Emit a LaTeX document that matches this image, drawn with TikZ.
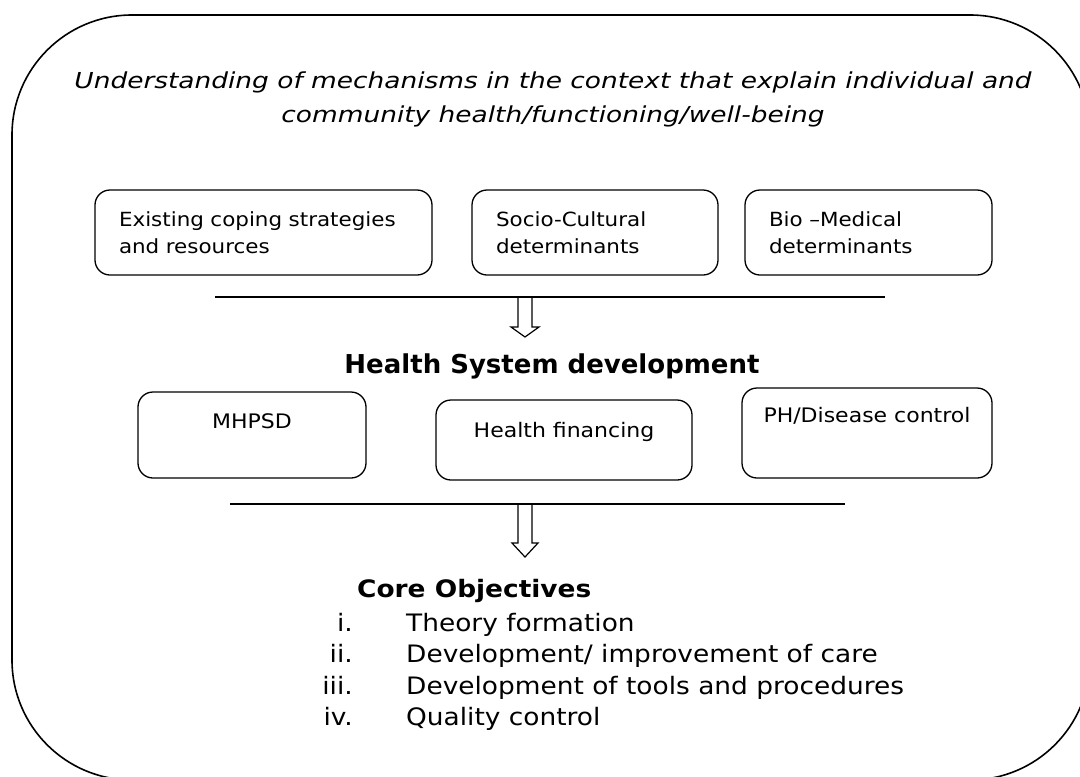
\documentclass[tikz,border=0pt]{standalone}
\usepackage{fontspec}
\setmainfont[FakeStretch=1.1]{DejaVu Sans}
\newfontfamily\titlefont[FakeStretch=1.2]{DejaVu Sans}
\newfontfamily\plainfont{DejaVu Sans}

\begin{document}
\begin{tikzpicture}[x=1pt, y=-1pt]
	\tikzstyle{every node}=[inner sep=0pt]
	\tikzstyle{topbox}=[draw, line width=1.3pt, rounded corners=15pt, align=left, inner xsep=24pt, minimum height=85pt, font=\fontsize{19.5}{27}\selectfont]
	\tikzstyle{sysbox}=[draw, line width=1.3pt, rounded corners=15pt, align=center, anchor=base, font=\fontsize{20}{24}\selectfont]
	\tikzstyle{head}=[anchor=base, font=\plainfont\bfseries\fontsize{26}{30}\selectfont]
	\tikzstyle{num}=[anchor=base east, font=\fontsize{24}{30}\selectfont]
	\tikzstyle{item}=[anchor=base west, font=\fontsize{24}{30}\selectfont]
	\tikzstyle{hollow}=[line width=1.2pt, line join=miter]
	\useasboundingbox (0,0) rectangle (1080,777);
	\begin{scope}
		\clip (0,0) rectangle (1080,777);
		\draw[line width=1.6pt, rounded corners=120pt] (12,15) rectangle (1090,780);
	\end{scope}
	\node[anchor=base, font=\titlefont\itshape\fontsize{22}{34}\selectfont] (title1) at (553,88) {Understanding of mechanisms in the context that explain individual and};
	\node[anchor=base, font=\titlefont\itshape\fontsize{22}{34}\selectfont] (title2) at (553,122) {community health/functioning/well-being};
	\node[topbox, text width=289pt] (coping) at (263.5,232.5) {Existing coping strategies\\and resources};
	\node[topbox, text width=198pt] (socio) at (595,232.5) {Socio-Cultural\\determinants};
	\node[topbox, text width=199pt] (bio) at (868.5,232.5) {Bio –Medical\\determinants};
	\coordinate (bar1w) at (215,297);
	\coordinate (bar1e) at (885,297);
	\coordinate (arr1) at (525,297);
	\draw[line width=1.6pt] (bar1w) -- (bar1e);
	\draw[hollow] (arr1) ++(-7,0) -- ++(0,30) -- ++(-7,0) -- ++(14,10) -- ++(14,-10) -- ++(-7,0) -- ++(0,-30);
	\node[head] (hsd) at (552,373) {Health System development};
	\node[sysbox, minimum width=228pt, text height=36pt, text depth=50pt] (mhpsd) at (252,428) {MHPSD};
	\node[sysbox, minimum width=256pt, text height=37pt, text depth=43pt] (finance) at (564,437) {Health financing};
	\node[sysbox, minimum width=250pt, text height=34pt, text depth=56pt] (phdc) at (867,422) {PH/Disease control};
	\coordinate (bar2w) at (230,504);
	\coordinate (bar2e) at (845,504);
	\coordinate (arr2) at (525,504);
	\draw[line width=1.6pt] (bar2w) -- (bar2e);
	\draw[hollow] (arr2) ++(-7,0) -- ++(0,39) -- ++(-6,0) -- ++(13,14) -- ++(13,-14) -- ++(-6,0) -- ++(0,-39);
	\node[anchor=base west, font=\bfseries\fontsize{24}{30}\selectfont] (core) at (357,597) {Core Objectives};
	\node[num] (n1) at (353,631) {i.};
	\node[item] (obj1) at (406,631) {Theory formation};
	\node[num] (n2) at (353,662) {ii.};
	\node[item] (obj2) at (406,662) {Development/ improvement of care};
	\node[num] (n3) at (353,694) {iii.};
	\node[item] (obj3) at (406,694) {Development of tools and procedures};
	\node[num] (n4) at (353,725) {iv.};
	\node[item] (obj4) at (406,725) {Quality control};
\end{tikzpicture}
\end{document}
